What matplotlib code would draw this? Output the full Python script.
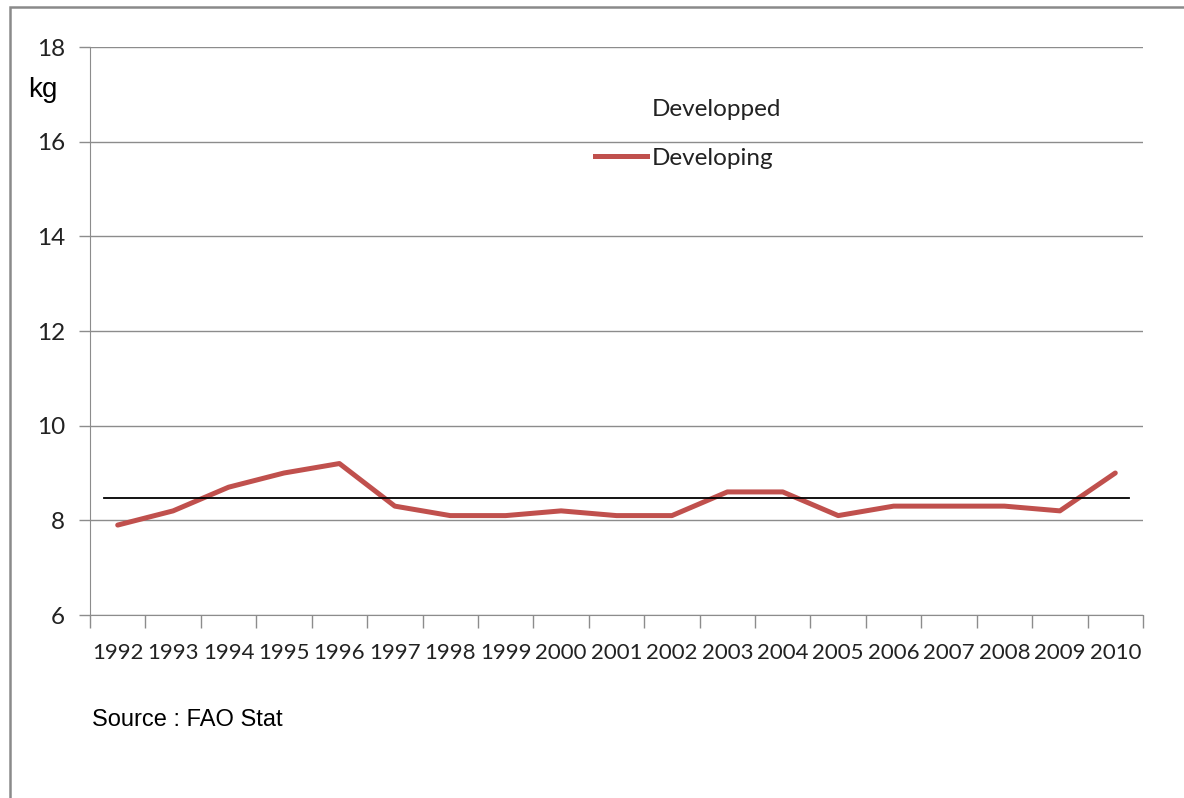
import matplotlib.pyplot as plt
from matplotlib.lines import Line2D
from matplotlib.patches import Rectangle
import numpy as np

# --- data ---
years = ["1992", "1993", "1994", "1995", "1996", "1997", "1998", "1999", "2000",
         "2001", "2002", "2003", "2004", "2005", "2006", "2007", "2008", "2009", "2010"]
developing = [7.9, 8.2, 8.7, 9.0, 9.2, 8.3, 8.1, 8.1, 8.2,
              8.1, 8.1, 8.6, 8.6, 8.1, 8.3, 8.3, 8.3, 8.2, 9.0]
developped_level = 8.47

W, H = 1184, 798
fig = plt.figure(figsize=(W / 100, H / 100), dpi=100)
ax = fig.add_axes([90 / W, 1 - 615 / H, (1143 - 90) / W, (615 - 47) / H])

grid_col = "#8c8c8c"
red = "#c0504d"
label_font = ["Lato", "DejaVu Sans"]

x = np.arange(len(years))
ax.plot(x, developing, color=red, lw=3.6, solid_joinstyle="round",
        solid_capstyle="round", zorder=3)
# horizontal reference line (Developped)
ax.plot([-0.25, len(years) - 0.75], [developped_level] * 2, color="black",
        lw=1.3, zorder=4)

ax.set_xlim(-0.5, len(years) - 0.5)
ax.set_ylim(6, 18)
ax.set_yticks(range(6, 19, 2))
ax.yaxis.grid(True, color=grid_col, lw=1)
ax.set_axisbelow(True)

# x ticks at category boundaries, labels at centres
ax.set_xticks(np.arange(-0.5, len(years), 1.0))
ax.set_xticklabels([])
ax.set_xticks(x, minor=True)
ax.set_xticklabels(years, minor=True, fontsize=16, family=label_font,
                   color="#222222")
ax.tick_params(axis="x", which="major", length=9, color=grid_col, width=1)
ax.tick_params(axis="x", which="minor", length=0, pad=20)
ax.tick_params(axis="y", length=8, color=grid_col, width=1, pad=10,
               labelsize=17.5, labelcolor="#222222")
for lab in ax.get_yticklabels():
    lab.set_family(label_font)

for s in ["top", "right"]:
    ax.spines[s].set_visible(False)
ax.spines["left"].set_color(grid_col)
ax.spines["bottom"].set_color(grid_col)

# legend
handles = [Line2D([], [], color="none", lw=3.6),
           Line2D([], [], color=red, lw=3.6)]
fig.legend(handles, ["Developped", "Developing"], loc="upper left",
           bbox_to_anchor=(573 / W, 1 - 77 / H), frameon=False,
           prop={"family": label_font, "size": 17.5},
           handlelength=2.15, handletextpad=0.17, labelspacing=1.15,
           labelcolor="#222222")

fig.text(28 / W, 1 - 90 / H, "kg", fontsize=20, family="Liberation Sans",
         va="center", ha="left")
fig.text(92 / W, 1 - 720 / H, "Source : FAO Stat", fontsize=17,
         family="Liberation Sans", va="center", ha="left")

# outer chart frame
fig.patches.append(Rectangle((10 / W, -0.05), 1.1, 1 - 7 / H + 0.05,
                             transform=fig.transFigure, fill=False,
                             ec="#8a8a8a", lw=1.8))

fig.savefig("out.png", dpi=100)
